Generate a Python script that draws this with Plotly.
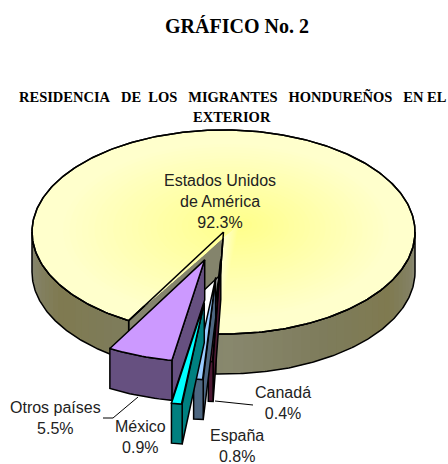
import numpy as np
import plotly.graph_objects as go

# Data
categories = ["Estados Unidos<br>de América", "Canadá", "España", "México", "Otros países"]
values = [92.3, 0.4, 0.8, 0.9, 5.5]
explode = [0.0, 0.27, 0.45, 0.70, 0.29]
top_colors = ["#FFFFCC", "#993366", "#99CCFF", "#00FFFF", "#CC99FF"]
side_colors = ["#84846C", "#4D1933", "#4D6680", "#008080", "#665080"]
label_xy = [(220, 201), (283, 403), (237, 446), (140, 437), (55, 418)]

# Pie geometry
CX, CY, RX, RY, DEPTH = 223.5, 232, 191.5, 102, 40
FX, FY = 240, 224  # focus of the shading on the top face
START = 2.3  # degrees clockwise from the bottom of the pie
TEXT = "#222222"
WALL_STOPS = [(0, "#88886E"), (30, "#7E7C5C"), (58, "#7F7A50"), (90, "#878774")]

fig = go.Figure()


def poly(xs, ys, fill, line="black", width=1.5):
    fig.add_trace(go.Scatter(
        x=list(xs), y=list(ys), mode="lines", fill="toself", fillcolor=fill,
        line=dict(color=line, width=width), hoverinfo="skip", showlegend=False))


def arc(a0, a1, ox=0.0, oy=0.0, n=None):
    n = n or max(int(abs(a1 - a0) * 1.5), 3)
    t = np.radians(np.linspace(a0, a1, n))
    return CX + ox - RX * np.sin(t), CY + oy + RY * np.cos(t)


def mix(c0, c1, f):
    a = [int(c0[i:i + 2], 16) for i in (1, 3, 5)]
    b = [int(c1[i:i + 2], 16) for i in (1, 3, 5)]
    return "rgb(%d,%d,%d)" % tuple(round(p + (q - p) * f) for p, q in zip(a, b))


def wall_color(theta):
    d = abs(((theta + 180) % 360) - 180)
    for (t0, c0), (t1, c1) in zip(WALL_STOPS, WALL_STOPS[1:]):
        if d <= t1:
            return mix(c0, c1, (d - t0) / (t1 - t0))
    return WALL_STOPS[-1][1]


total = sum(values)
spans = [v / total * 360 for v in values]
edges = {}
a = START
for i in range(1, len(values)):
    edges[i] = (a, a + spans[i])
    a += spans[i]
edges[0] = (a, START + 360)

# --- large slice ---
a0, a1 = edges[0]
lx, ly = arc(a0, a0, n=1)
rx, ry = arc(a1, a1, n=1)
poly([CX, lx[0], lx[0], CX, CX], [CY, ly[0], ly[0] + DEPTH, CY + DEPTH, CY], side_colors[0])
poly([CX, rx[0], rx[0], CX, CX], [CY, ry[0], ry[0] + DEPTH, CY + DEPTH, CY], side_colors[0])
for p0, p1 in ((a0, 90), (270, a1)):
    steps = np.arange(p0, p1, 3.0)
    for t in steps:
        xs, ys = arc(t, min(t + 4, p1), n=4)
        poly(np.r_[xs, xs[::-1]], np.r_[ys, ys[::-1] + DEPTH], wall_color(t + 2),
             "rgba(0,0,0,0)", 0)
    xs, ys = arc(p0, p1)
    poly(np.r_[xs, xs[::-1], xs[0]], np.r_[ys, ys[::-1] + DEPTH, ys[0]],
         "rgba(0,0,0,0)")

xs, ys = arc(a0, a1, n=360)
top_x = np.r_[CX, xs, CX]
top_y = np.r_[CY, ys, CY]
poly(top_x, top_y, top_colors[0])
for k, s in enumerate(np.linspace(0.85, 0.04, 28)):
    poly(FX + s * (top_x - FX), FY + s * (top_y - FY),
         mix("#FFFFCC", "#FFFF8C", (k + 1) / 28), "rgba(0,0,0,0)", 0)
poly(top_x, top_y, "rgba(0,0,0,0)")

# --- exploded slices ---
for i in (4, 1, 2, 3):
    a0, a1 = edges[i]
    mid = np.radians((a0 + a1) / 2)
    ox = -RX * explode[i] * np.sin(mid)
    oy = RY * explode[i] * np.cos(mid)
    ax, ay = CX + ox, CY + oy
    xs, ys = arc(a0, a1, ox, oy, n=16)
    poly([ax, xs[0], xs[0], ax, ax], [ay, ys[0], ys[0] + DEPTH, ay + DEPTH, ay], side_colors[i])
    poly(np.r_[xs, xs[::-1], xs[0]], np.r_[ys, ys[::-1] + DEPTH, ys[0]], side_colors[i])
    poly(np.r_[ax, xs, ax], np.r_[ay, ys, ay], top_colors[i])

# leader lines
for lxs, lys in (([138, 113, 103], [397, 418, 418]), ([215, 253], [401, 405])):
    fig.add_trace(go.Scatter(x=lxs, y=lys, mode="lines", line=dict(color="black", width=1),
                             hoverinfo="skip", showlegend=False))

# labels
for name, v, (x, y) in zip(categories, values, label_xy):
    fig.add_annotation(x=x, y=y, text=f"{name}<br>{v:.1f}%", showarrow=False,
                       xanchor="center", yanchor="middle",
                       font=dict(family="Liberation Sans", size=16, color=TEXT))

N = "\u00a0"
fig.add_annotation(x=237, y=26, text="<b>GRÁFICO No. 2</b>", showarrow=False,
                   font=dict(family="Liberation Serif", size=20, color="black"))
fig.add_annotation(x=232.5, y=96,
                   text=f"<b>RESIDENCIA{N}{N}{N}DE{N}{N}LOS{N}{N}{N}MIGRANTES{N}{N}{N}HONDUREÑOS{N}{N}{N}EN{N}EL</b>",
                   showarrow=False, font=dict(family="Liberation Serif", size=14.5, color="black"))
fig.add_annotation(x=232, y=117, text="<b>EXTERIOR</b>", showarrow=False,
                   font=dict(family="Liberation Serif", size=14.5, color="black"))

fig.update_layout(
    width=448, height=464, margin=dict(l=0, r=0, t=0, b=0),
    paper_bgcolor="white", plot_bgcolor="white", showlegend=False,
    xaxis=dict(range=[0, 448], visible=False, fixedrange=True),
    yaxis=dict(range=[464, 0], visible=False, fixedrange=True),
)
fig.write_html("out.html", config={"displayModeBar": False},
               post_script="document.body.style.margin='0';document.documentElement.style.overflow='hidden';")
